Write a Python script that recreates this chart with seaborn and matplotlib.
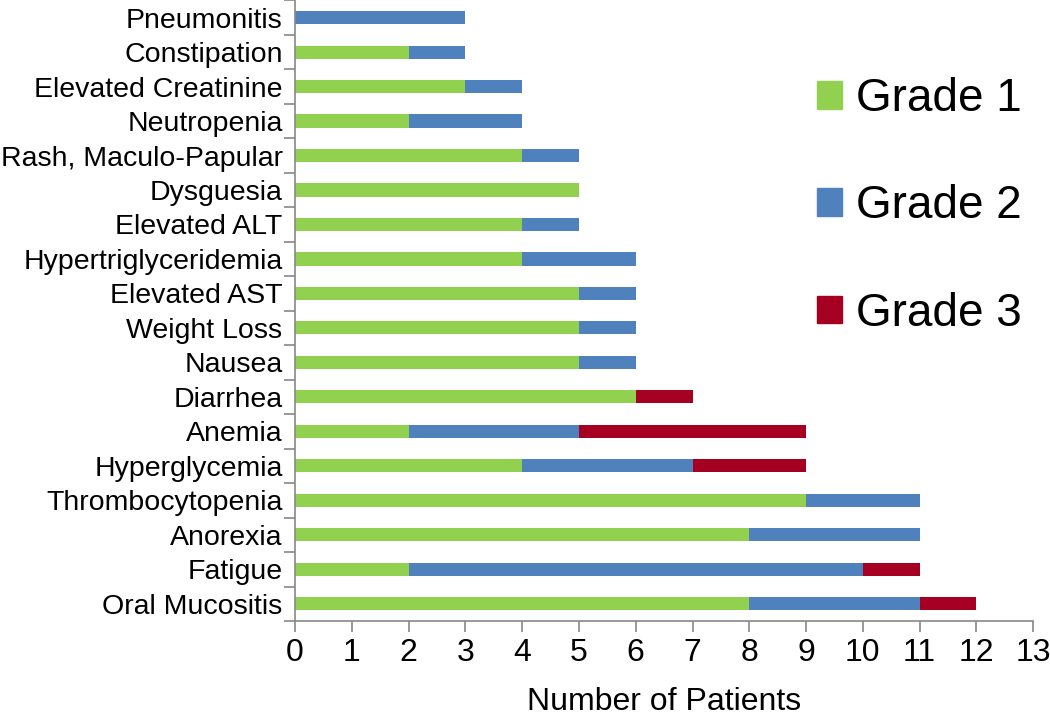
import numpy as np
import pandas as pd
import matplotlib
matplotlib.use("Agg")
import matplotlib.pyplot as plt
import seaborn as sns
from matplotlib.patches import Patch

categories = ["Pneumonitis", "Constipation", "Elevated Creatinine", "Neutropenia",
              "Rash, Maculo-Papular", "Dysguesia", "Elevated ALT", "Hypertriglyceridemia",
              "Elevated AST", "Weight Loss", "Nausea", "Diarrhea", "Anemia",
              "Hyperglycemia", "Thrombocytopenia", "Anorexia", "Fatigue", "Oral Mucositis"]
grade1 = [0, 2, 3, 2, 4, 5, 4, 4, 5, 5, 5, 6, 2, 4, 9, 8, 2, 8]
grade2 = [3, 1, 1, 2, 1, 0, 1, 2, 1, 1, 1, 0, 3, 3, 2, 3, 8, 3]
grade3 = [0, 0, 0, 0, 0, 0, 0, 0, 0, 0, 0, 1, 4, 2, 0, 0, 1, 1]
series_names = ["Grade 1", "Grade 2", "Grade 3"]
colors = ["#92D050", "#4F81BD", "#A50021"]
xticks = list(range(0, 14))

sns.set_theme(style="white")
plt.rcParams['font.family'] = ['Liberation Sans', 'DejaVu Sans']
plt.rcParams['text.color'] = 'black'
plt.rcParams['axes.labelcolor'] = 'black'
plt.rcParams['xtick.labelcolor'] = 'black'
plt.rcParams['ytick.labelcolor'] = 'black'

df = pd.DataFrame({"cat": categories, "g1": grade1, "g2": grade2, "g3": grade3})
df["c2"] = df["g1"] + df["g2"]
df["c3"] = df["c2"] + df["g3"]

fig = plt.figure(figsize=(10.5, 7.2), dpi=100)
ax = fig.add_axes([0.281, 0.1375, 0.703, 0.862])

for col, color in zip(["c3", "c2", "g1"], colors[::-1]):
    sns.barplot(data=df, x=col, y="cat", order=categories, color=color,
                orient="h", width=0.38, saturation=1, ax=ax, linewidth=0)

ax.set_xlim(0, 13)
ax.set_ylim(len(categories) - 0.5, -0.5)
ax.set_xticks(xticks)
ax.set_xticklabels([str(t) for t in xticks], fontsize=23, color="black")
ax.tick_params(axis="y", which="major", length=0, labelsize=20.5, pad=9, labelcolor="black")
ax.set_yticks(np.arange(-0.5, len(categories), 1), minor=True)
ax.tick_params(axis="y", which="minor", length=8, width=1.2, color="#888888", left=True)
ax.tick_params(axis="x", which="major", length=8, width=1.2, color="#888888", bottom=True, pad=4)
ax.set_xlabel("Number of Patients", fontsize=23, labelpad=14, color="black")
ax.set_ylabel("")

for s in ["top", "right"]:
    ax.spines[s].set_visible(False)
for s in ["left", "bottom"]:
    ax.spines[s].set_color("#888888")
    ax.spines[s].set_linewidth(1.2)

handles = [Patch(facecolor=c, edgecolor=c) for c in colors]
leg = fig.legend(handles, series_names, loc="upper left", bbox_to_anchor=(0.739, 0.95),
                 frameon=False, fontsize=33, labelspacing=1.38, handlelength=0.55,
                 handleheight=0.55, handletextpad=0.3)
for t in leg.get_texts():
    t.set_color("black")

fig.savefig("out.png", dpi=100)
